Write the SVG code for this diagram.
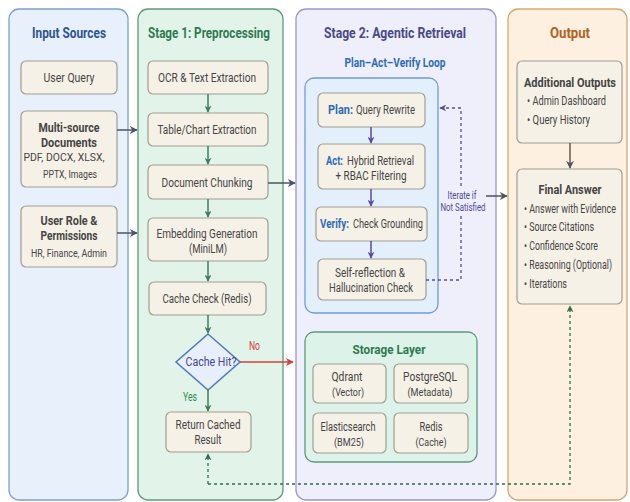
<svg xmlns="http://www.w3.org/2000/svg" width="630" height="502" viewBox="0 0 630 502">
<defs>
<style>
text{font-family:Roboto,"Liberation Sans",sans-serif;fill:#454545;font-size:12.5px}
.t{font-size:15px;font-weight:bold;text-anchor:middle}
.b{font-weight:bold}
.m{text-anchor:middle}
.s{font-size:11.5px}
.box{fill:#f6f1e7;stroke:#a09d92;stroke-width:1.2}
.g{stroke:#3e7d5a;stroke-width:1.5;fill:none}
.p{stroke:#5b4a9e;stroke-width:1.5;fill:none}
.k{stroke:#4b5566;stroke-width:1.5;fill:none}
</style>
<marker id="ag" viewBox="0 0 10 10" refX="9" refY="5" markerWidth="7" markerHeight="7" markerUnits="userSpaceOnUse" orient="auto"><path d="M0,0 L10,5 L0,10 L3,5z" fill="#3e7d5a"/></marker>
<marker id="ap" viewBox="0 0 10 10" refX="9" refY="5" markerWidth="7" markerHeight="7" markerUnits="userSpaceOnUse" orient="auto"><path d="M0,0 L10,5 L0,10 L3,5z" fill="#5b4a9e"/></marker>
<marker id="ak" viewBox="0 0 10 10" refX="9" refY="5" markerWidth="8" markerHeight="8" markerUnits="userSpaceOnUse" orient="auto"><path d="M0,0 L10,5 L0,10 L3,5z" fill="#4b5566"/></marker>
<marker id="ar" viewBox="0 0 10 10" refX="9" refY="5" markerWidth="8" markerHeight="8" markerUnits="userSpaceOnUse" orient="auto"><path d="M0,0 L10,5 L0,10 L3,5z" fill="#d04040"/></marker>
<marker id="ad" viewBox="0 0 10 10" refX="9" refY="5" markerWidth="7" markerHeight="7" markerUnits="userSpaceOnUse" orient="auto"><path d="M0,0 L10,5 L0,10 L3,5z" fill="#2f6e4c"/></marker>
<marker id="adp" viewBox="0 0 10 10" refX="9" refY="5" markerWidth="7" markerHeight="7" markerUnits="userSpaceOnUse" orient="auto"><path d="M0,0 L10,5 L0,10 L3,5z" fill="#5b4a9e"/></marker>
</defs>
<rect width="630" height="502" fill="#ffffff"/>

<!-- Panels -->
<g id="panel-input">
<rect x="9" y="9" width="119" height="491" rx="10" fill="#e7f0fb" stroke="#7f9fcc" stroke-width="1.3"/>
<text class="t" x="69" y="38" style="fill:#2c5594" textLength="74" lengthAdjust="spacingAndGlyphs">Input Sources</text>
</g>
<g id="panel-stage1">
<rect x="138" y="9" width="145" height="491" rx="10" fill="#e2f4ea" stroke="#5f9a7b" stroke-width="1.3"/>
<text class="t" x="209" y="38" style="fill:#2e7a50" textLength="122" lengthAdjust="spacingAndGlyphs">Stage 1: Preprocessing</text>
</g>
<g id="panel-stage2">
<rect x="296" y="9" width="200" height="491" rx="10" fill="#efeefb" stroke="#9d97c9" stroke-width="1.3"/>
<text class="t" x="395" y="38" style="fill:#474a88" textLength="142" lengthAdjust="spacingAndGlyphs">Stage 2: Agentic Retrieval</text>
<text class="m b" x="395" y="67" style="fill:#2d6cb4" textLength="101" lengthAdjust="spacingAndGlyphs">Plan–Act–Verify Loop</text>
</g>
<g id="panel-output">
<rect x="508" y="9" width="119" height="491" rx="10" fill="#fdf0e1" stroke="#d8a66c" stroke-width="1.3"/>
<text class="t" x="570" y="38" style="fill:#b0621e" textLength="40" lengthAdjust="spacingAndGlyphs">Output</text>
</g>

<!-- Input nodes -->
<g id="user-query">
<rect class="box" x="21" y="61" width="96" height="33" rx="5"/>
<text class="m" x="69" y="82" textLength="51" lengthAdjust="spacingAndGlyphs">User Query</text>
</g>
<g id="multi-source">
<rect class="box" x="21" y="111" width="96" height="76" rx="5"/>
<text class="m b" x="69" y="132" textLength="61" lengthAdjust="spacingAndGlyphs">Multi-source</text>
<text class="m b" x="69" y="147" textLength="56" lengthAdjust="spacingAndGlyphs">Documents</text>
<text class="m s" x="64" y="161" textLength="81" lengthAdjust="spacingAndGlyphs">PDF, DOCX, XLSX,</text>
<text class="m s" x="70" y="178" textLength="54" lengthAdjust="spacingAndGlyphs">PPTX, Images</text>
</g>
<g id="user-role">
<rect class="box" x="21" y="206" width="96" height="61" rx="5"/>
<text class="m b" x="69" y="225" textLength="57" lengthAdjust="spacingAndGlyphs">User Role &amp;</text>
<text class="m b" x="69" y="240" textLength="57" lengthAdjust="spacingAndGlyphs">Permissions</text>
<text class="m s" x="69" y="257" textLength="76" lengthAdjust="spacingAndGlyphs">HR, Finance, Admin</text>
</g>

<!-- Stage 1 nodes -->
<g id="ocr">
<rect class="box" x="148" y="61" width="120" height="33" rx="5"/>
<text class="m" x="207" y="82" textLength="98" lengthAdjust="spacingAndGlyphs">OCR &amp; Text Extraction</text>
</g>
<g id="table-chart">
<rect class="box" x="148" y="113" width="120" height="33" rx="5"/>
<text class="m" x="207" y="134" textLength="99" lengthAdjust="spacingAndGlyphs">Table/Chart Extraction</text>
</g>
<g id="chunking">
<rect class="box" x="148" y="165" width="120" height="34" rx="5"/>
<text class="m" x="207" y="187" textLength="91" lengthAdjust="spacingAndGlyphs">Document Chunking</text>
</g>
<g id="embedding">
<rect class="box" x="148" y="218" width="120" height="43" rx="5"/>
<text class="m" x="207" y="238" textLength="101" lengthAdjust="spacingAndGlyphs">Embedding Generation</text>
<text class="m" x="208" y="253" textLength="38" lengthAdjust="spacingAndGlyphs">(MiniLM)</text>
</g>
<g id="cache-check">
<rect class="box" x="149" y="282" width="117" height="33" rx="5"/>
<text class="m" x="207" y="303" textLength="89" lengthAdjust="spacingAndGlyphs">Cache Check (Redis)</text>
</g>
<g id="cache-hit">
<path d="M208,334 L240,362 L208,390 L176,362 Z" fill="#e7effb" stroke="#4f78b5" stroke-width="1.5"/>
<text class="m" x="211" y="366" style="fill:#4a4594" textLength="51" lengthAdjust="spacingAndGlyphs">Cache Hit?</text>
</g>
<g id="return-cached">
<rect class="box" x="166" y="412" width="85" height="40" rx="5"/>
<text class="m" x="208" y="429" textLength="65" lengthAdjust="spacingAndGlyphs">Return Cached</text>
<text class="m" x="208" y="444" textLength="27" lengthAdjust="spacingAndGlyphs">Result</text>
</g>

<!-- Stage 2 loop -->
<g id="loop">
<rect x="305" y="78" width="133" height="235" rx="9" fill="#e3effb" stroke="#6f9ed3" stroke-width="1.3"/>
</g>
<g id="plan">
<rect class="box" x="318" y="93" width="107" height="34" rx="5"/>
<text class="b" x="328" y="114" style="fill:#2d6cb4" textLength="25" lengthAdjust="spacingAndGlyphs">Plan:</text>
<text x="356" y="114" textLength="59" lengthAdjust="spacingAndGlyphs">Query Rewrite</text>
</g>
<g id="act">
<rect class="box" x="318" y="144" width="107" height="45" rx="5"/>
<text class="b" x="326" y="165" style="fill:#2d6cb4" textLength="17" lengthAdjust="spacingAndGlyphs">Act:</text>
<text x="347" y="165" textLength="67" lengthAdjust="spacingAndGlyphs">Hybrid Retrieval</text>
<text class="m" x="371" y="180" textLength="71" lengthAdjust="spacingAndGlyphs">+ RBAC Filtering</text>
</g>
<g id="verify">
<rect class="box" x="316" y="207" width="111" height="34" rx="5"/>
<text class="b" x="320" y="228" style="fill:#2d6cb4" textLength="29" lengthAdjust="spacingAndGlyphs">Verify:</text>
<text x="353" y="228" textLength="70" lengthAdjust="spacingAndGlyphs">Check Grounding</text>
</g>
<g id="self-reflection">
<rect class="box" x="318" y="259" width="108" height="41" rx="5"/>
<text class="m" x="370" y="277" textLength="70" lengthAdjust="spacingAndGlyphs">Self-reflection &amp;</text>
<text class="m" x="371" y="292" textLength="84" lengthAdjust="spacingAndGlyphs">Hallucination Check</text>
</g>
<g id="iterate-label">
<text class="m" x="462" y="199" style="font-size:10px;fill:#4f4a96" textLength="29" lengthAdjust="spacingAndGlyphs">Iterate if</text>
<text class="m" x="463" y="211" style="font-size:10px;fill:#4f4a96" textLength="45" lengthAdjust="spacingAndGlyphs">Not Satisfied</text>
</g>

<!-- Storage -->
<g id="storage">
<rect x="305" y="332" width="172" height="130" rx="9" fill="#ddf2e8" stroke="#5c9a7b" stroke-width="1.3"/>
<text class="m b" x="389" y="354" style="font-size:13.5px;fill:#2e7a50" textLength="73" lengthAdjust="spacingAndGlyphs">Storage Layer</text>
</g>
<g id="qdrant">
<rect class="box" x="313" y="364" width="73" height="39" rx="5"/>
<text class="m" x="347" y="381" textLength="31" lengthAdjust="spacingAndGlyphs">Qdrant</text>
<text class="m s" x="348" y="396" textLength="32" lengthAdjust="spacingAndGlyphs">(Vector)</text>
</g>
<g id="postgres">
<rect class="box" x="394" y="364" width="74" height="39" rx="5"/>
<text class="m" x="430" y="381" textLength="54" lengthAdjust="spacingAndGlyphs">PostgreSQL</text>
<text class="m s" x="430" y="396" textLength="45" lengthAdjust="spacingAndGlyphs">(Metadata)</text>
</g>
<g id="elastic">
<rect class="box" x="313" y="413" width="73" height="40" rx="5"/>
<text class="m" x="348" y="431" textLength="55" lengthAdjust="spacingAndGlyphs">Elasticsearch</text>
<text class="m s" x="349" y="446" textLength="30" lengthAdjust="spacingAndGlyphs">(BM25)</text>
</g>
<g id="redis">
<rect class="box" x="394" y="413" width="74" height="40" rx="5"/>
<text class="m" x="431" y="431" textLength="23" lengthAdjust="spacingAndGlyphs">Redis</text>
<text class="m s" x="431" y="446" textLength="31" lengthAdjust="spacingAndGlyphs">(Cache)</text>
</g>

<!-- Output nodes -->
<g id="additional-outputs">
<rect class="box" x="517" y="61" width="105" height="82" rx="5"/>
<text class="m b" x="570" y="87" style="font-size:13.5px" textLength="92" lengthAdjust="spacingAndGlyphs">Additional Outputs</text>
<text x="527" y="105" textLength="79" lengthAdjust="spacingAndGlyphs">• Admin Dashboard</text>
<text x="527" y="124" textLength="63" lengthAdjust="spacingAndGlyphs">• Query History</text>
</g>
<g id="final-answer">
<rect class="box" x="517" y="169" width="105" height="135" rx="5"/>
<text class="m b" x="570" y="194" style="font-size:13.5px" textLength="63" lengthAdjust="spacingAndGlyphs">Final Answer</text>
<text x="524" y="213" textLength="92" lengthAdjust="spacingAndGlyphs">• Answer with Evidence</text>
<text x="524" y="231" textLength="70" lengthAdjust="spacingAndGlyphs">• Source Citations</text>
<text x="524" y="250" textLength="74" lengthAdjust="spacingAndGlyphs">• Confidence Score</text>
<text x="524" y="269" textLength="88" lengthAdjust="spacingAndGlyphs">• Reasoning (Optional)</text>
<text x="524" y="288" textLength="43" lengthAdjust="spacingAndGlyphs">• Iterations</text>
</g>

<!-- Connectors -->
<g id="connectors">
<path class="k" d="M117,130 H137" marker-end="url(#ak)"/>
<path class="k" d="M117,233 H137" marker-end="url(#ak)"/>
<path class="k" d="M268,183 H295" marker-end="url(#ak)"/>
<path class="g" d="M208,94 V112" marker-end="url(#ag)"/>
<path class="g" d="M208,146 V164" marker-end="url(#ag)"/>
<path class="g" d="M208,199 V217" marker-end="url(#ag)"/>
<path class="g" d="M208,261 V281" marker-end="url(#ag)"/>
<path class="g" d="M208,315 V333" marker-end="url(#ag)"/>
<path class="g" d="M208,390 V411" marker-end="url(#ag)"/>
<path d="M240,362 H293" stroke="#d04040" stroke-width="1.5" fill="none" marker-end="url(#ar)"/>
<text x="249" y="350" style="fill:#d04040" textLength="11" lengthAdjust="spacingAndGlyphs">No</text>
<text x="183" y="401" style="fill:#2e8a4a" textLength="14" lengthAdjust="spacingAndGlyphs">Yes</text>
<path class="p" d="M371,127 V143" marker-end="url(#ap)"/>
<path class="p" d="M371,189 V206" marker-end="url(#ap)"/>
<path class="p" d="M371,241 V258" marker-end="url(#ap)"/>
<path d="M426,280 H461 V216" stroke="#5b4a9e" stroke-width="1.3" stroke-dasharray="3,3" fill="none"/>
<path d="M461,186 V108 H440" stroke="#5b4a9e" stroke-width="1.3" stroke-dasharray="3,3" fill="none" marker-end="url(#adp)"/>
<path d="M486,196 H507" stroke="#4b4f6a" stroke-width="1.5" fill="none" marker-end="url(#ak)"/>
<path class="k" d="M570,143 V168" style="stroke:#6a5a48" marker-end="url(#ak)"/>
<path d="M208,484 H570 V306" stroke="#2f6e4c" stroke-width="1.3" stroke-dasharray="3,3" fill="none" marker-end="url(#ad)"/>
<path d="M208,484 V454" stroke="#2f6e4c" stroke-width="1.3" stroke-dasharray="3,3" fill="none" marker-end="url(#ad)"/>
</g>
</svg>
